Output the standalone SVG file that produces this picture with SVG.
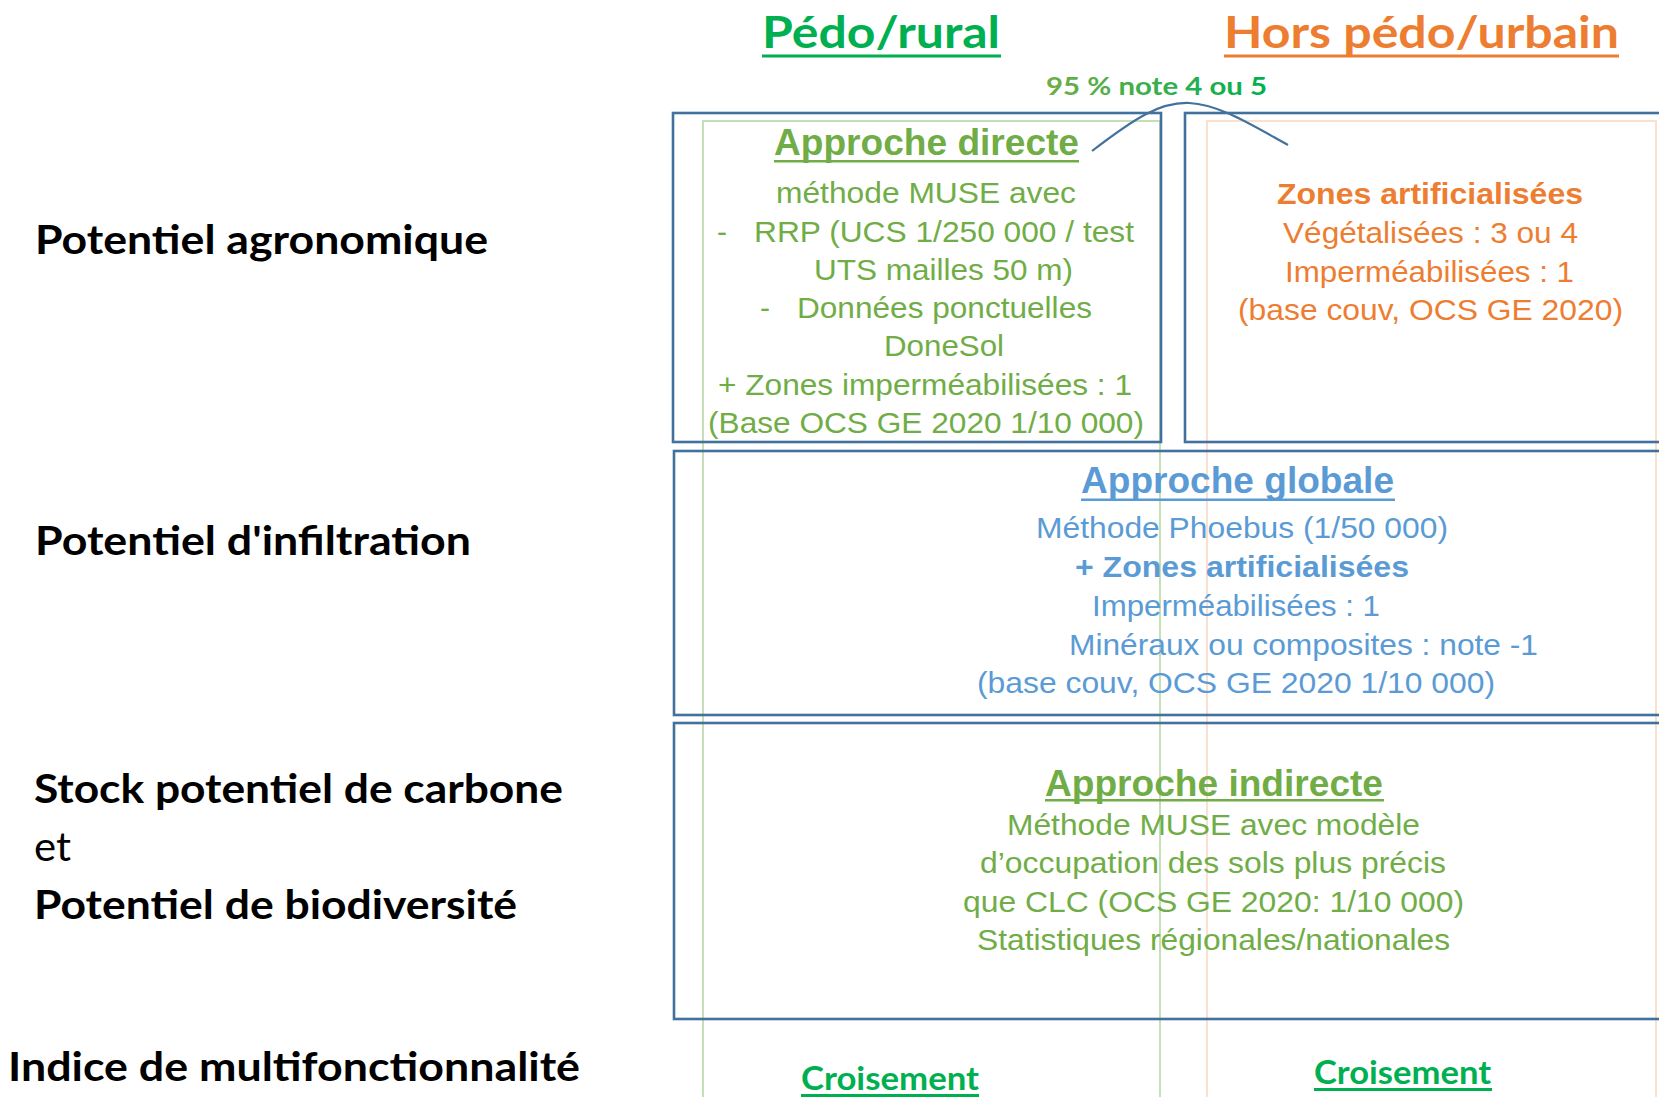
<svg xmlns="http://www.w3.org/2000/svg" width="1659" height="1097" viewBox="0 0 1659 1097">
<style>
.lbl{font-family:Lato,"Open Sans","Liberation Sans",sans-serif;font-weight:700;fill:#000;font-size:40px}
.hdr{font-family:Lato,"Open Sans","Liberation Sans",sans-serif;font-weight:700}
.t{font-family:"Liberation Sans",Arial,sans-serif;font-size:30px}
.h{font-family:"Liberation Sans",Arial,sans-serif;font-size:36px;font-weight:700}
.b{font-weight:700}
.g{fill:#70AD47}
.o{fill:#ED7D31}
.bl{fill:#5B9BD5}
.box{fill:none;stroke:#41719C;stroke-width:2.6}
.guideG{fill:none;stroke:#C5E0B4;stroke-width:2}
.guideO{fill:none;stroke:#FBE0CF;stroke-width:2}
</style>
<defs>
<linearGradient id="gr95" x1="0" y1="0" x2="1" y2="0">
<stop offset="0" stop-color="#70AD47"/>
<stop offset="1" stop-color="#00B050"/>
</linearGradient>
</defs>
<rect width="1659" height="1097" fill="#fff"/>

<g id="guides">
<rect class="guideG" x="703" y="121" width="457" height="1000"/>
<rect class="guideO" x="1207" y="121" width="449" height="1000"/>
</g>

<g id="row-labels">
<text class="lbl" x="35" y="254" textLength="453" lengthAdjust="spacingAndGlyphs">Potentiel agronomique</text>
<text class="lbl" x="35" y="555" textLength="436" lengthAdjust="spacingAndGlyphs">Potentiel d'infiltration</text>
<text class="lbl" x="34" y="803" textLength="529" lengthAdjust="spacingAndGlyphs">Stock potentiel de carbone</text>
<text class="lbl" x="34" y="861" style="font-weight:400" textLength="37" lengthAdjust="spacingAndGlyphs">et</text>
<text class="lbl" x="34" y="919" textLength="483" lengthAdjust="spacingAndGlyphs">Potentiel de biodiversité</text>
<text class="lbl" x="8" y="1081" textLength="572" lengthAdjust="spacingAndGlyphs">Indice de multifonctionnalité</text>
</g>

<g id="col-pedo">
<text class="hdr" x="762" y="48" font-size="44" fill="#00B050" textLength="238" lengthAdjust="spacingAndGlyphs">Pédo/rural</text>
<rect x="762" y="54.5" width="239" height="3" fill="#00B050"/>
</g>
<g id="col-urbain">
<text class="hdr" x="1224" y="48" font-size="44" fill="#ED7D31" textLength="395" lengthAdjust="spacingAndGlyphs">Hors pédo/urbain</text>
<rect x="1224" y="54.5" width="395" height="3" fill="#ED7D31"/>
</g>

<g id="connectors">
<path d="M1092,151 C1135,118 1160,102 1189,103 C1218,104 1250,124 1288,145" fill="none" stroke="#41719C" stroke-width="2.2"/>
<text class="hdr" x="1046" y="95" font-size="25" fill="url(#gr95)" textLength="221" lengthAdjust="spacingAndGlyphs">95 % note 4 ou 5</text>
</g>

<g id="approche-directe">
<rect class="box" x="673" y="113" width="488" height="329"/>
<text class="h g" x="774" y="155" textLength="305" lengthAdjust="spacingAndGlyphs">Approche directe</text>
<rect x="774" y="160" width="305" height="2.5" fill="#70AD47"/>
<text class="t g" x="776" y="203" textLength="300" lengthAdjust="spacingAndGlyphs">méthode MUSE avec</text>
<text class="t g" x="717" y="242">-</text>
<text class="t g" x="754" y="242" textLength="380" lengthAdjust="spacingAndGlyphs">RRP (UCS 1/250 000 / test</text>
<text class="t g" x="814" y="280" textLength="259" lengthAdjust="spacingAndGlyphs">UTS mailles 50 m)</text>
<text class="t g" x="760" y="318">-</text>
<text class="t g" x="797" y="318" textLength="295" lengthAdjust="spacingAndGlyphs">Données ponctuelles</text>
<text class="t g" x="884" y="356" textLength="120" lengthAdjust="spacingAndGlyphs">DoneSol</text>
<text class="t g" x="718" y="395" textLength="414" lengthAdjust="spacingAndGlyphs">+ Zones imperméabilisées : 1</text>
<text class="t g" x="708" y="433" textLength="436" lengthAdjust="spacingAndGlyphs">(Base OCS GE 2020 1/10 000)</text>
</g>

<g id="zones-artificialisees">
<rect class="box" x="1185" y="113" width="520" height="329"/>
<text class="t o b" x="1277" y="204" textLength="306" lengthAdjust="spacingAndGlyphs">Zones artificialisées</text>
<text class="t o" x="1283" y="243" textLength="295" lengthAdjust="spacingAndGlyphs">Végétalisées : 3 ou 4</text>
<text class="t o" x="1285" y="282" textLength="289" lengthAdjust="spacingAndGlyphs">Imperméabilisées : 1</text>
<text class="t o" x="1238" y="320" textLength="385" lengthAdjust="spacingAndGlyphs">(base couv, OCS GE 2020)</text>
</g>

<g id="approche-globale">
<rect class="box" x="674" y="451" width="1040" height="264"/>
<text class="h bl" x="1081" y="493" textLength="313" lengthAdjust="spacingAndGlyphs">Approche globale</text>
<rect x="1081" y="498.5" width="314" height="2.5" fill="#5B9BD5"/>
<text class="t bl" x="1036" y="538" textLength="412" lengthAdjust="spacingAndGlyphs">Méthode Phoebus (1/50 000)</text>
<text class="t bl b" x="1075" y="577" textLength="334" lengthAdjust="spacingAndGlyphs">+ Zones artificialisées</text>
<text class="t bl" x="1092" y="616" textLength="288" lengthAdjust="spacingAndGlyphs">Imperméabilisées : 1</text>
<text class="t bl" x="1069" y="655" textLength="469" lengthAdjust="spacingAndGlyphs">Minéraux ou composites : note -1</text>
<text class="t bl" x="977" y="693" textLength="518" lengthAdjust="spacingAndGlyphs">(base couv, OCS GE 2020 1/10 000)</text>
</g>

<g id="approche-indirecte">
<rect class="box" x="674" y="723" width="1040" height="296"/>
<text class="h g" x="1045" y="796" textLength="338" lengthAdjust="spacingAndGlyphs">Approche indirecte</text>
<rect x="1045" y="799" width="339" height="2.5" fill="#70AD47"/>
<text class="t g" x="1007" y="835" textLength="413" lengthAdjust="spacingAndGlyphs">Méthode MUSE avec modèle</text>
<text class="t g" x="980" y="873" textLength="466" lengthAdjust="spacingAndGlyphs">d’occupation des sols plus précis</text>
<text class="t g" x="963" y="912" textLength="501" lengthAdjust="spacingAndGlyphs">que CLC (OCS GE 2020: 1/10 000)</text>
<text class="t g" x="977" y="950" textLength="473" lengthAdjust="spacingAndGlyphs">Statistiques régionales/nationales</text>
</g>

<g id="croisement-pedo">
<text class="hdr" x="801" y="1090" font-size="32" fill="#00B050" textLength="178" lengthAdjust="spacingAndGlyphs">Croisement</text>
<rect x="801" y="1094" width="178" height="3" fill="#00B050"/>
</g>
<g id="croisement-urbain">
<text class="hdr" x="1314" y="1084" font-size="32" fill="#00B050" textLength="177" lengthAdjust="spacingAndGlyphs">Croisement</text>
<rect x="1314" y="1088" width="178" height="3" fill="#00B050"/>
</g>
</svg>
